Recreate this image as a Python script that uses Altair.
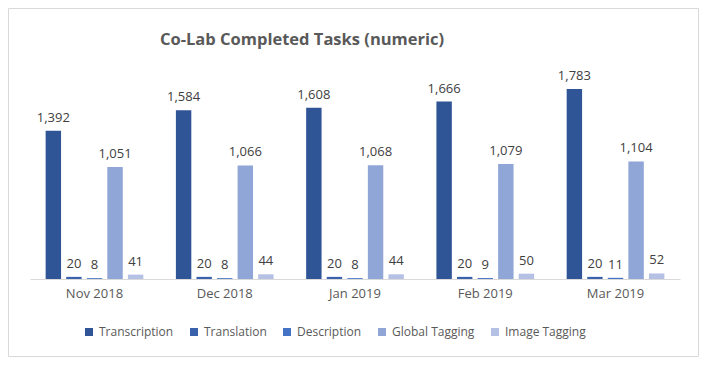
import altair as alt
import pandas as pd

title_text = "Co-Lab Completed Tasks (numeric)"
months = ["Nov 2018", "Dec 2018", "Jan 2019", "Feb 2019", "Mar 2019"]
series = ["Transcription", "Translation", "Description", "Global Tagging", "Image Tagging"]
colors = ["#2F5597", "#3A62AC", "#4472C4", "#8FA6D6", "#B4C1E5"]
transcription = [1392, 1584, 1608, 1666, 1783]
translation = [20, 20, 20, 20, 20]
description = [8, 8, 8, 9, 11]
global_tagging = [1051, 1066, 1068, 1079, 1104]
image_tagging = [41, 44, 44, 50, 52]

vals = [transcription, translation, description, global_tagging, image_tagging]
rows = []
for s, v in zip(series, vals):
    for m, x in zip(months, v):
        rows.append({"month": m, "series": s, "value": x})
df = pd.DataFrame(rows)

W, H = 650, 213
PL, PT, PR, PB = 22, 58, 19, 78

xenc = alt.X("month:N", sort=months, title=None,
             scale=alt.Scale(paddingInner=0.25, paddingOuter=0.12),
             axis=alt.Axis(labelAngle=0, ticks=False, domainColor="#d9d9d9",
                           labelColor="#595959", labelFontSize=13, labelFont="Open Sans",
                           labelPadding=8))
xoff = alt.XOffset("series:N", sort=series, scale=alt.Scale(paddingInner=0.25))
yenc = alt.Y("value:Q", scale=alt.Scale(domain=[0, 2000]), axis=None)

base = alt.Chart(df).encode(x=xenc, xOffset=xoff, y=yenc)

bars = base.mark_bar().encode(
    color=alt.Color("series:N", sort=series,
                    scale=alt.Scale(domain=series, range=colors),
                    legend=alt.Legend(title=None, orient="none", direction="horizontal",
                                      legendX=53, legendY=260,
                                      symbolType="square", symbolSize=64,
                                      symbolStrokeWidth=0,
                                      labelFontSize=12, labelFont="Open Sans",
                                      labelColor="#595959", columnPadding=14))
)
labels = base.mark_text(baseline="bottom", dy=-6, fontSize=13, font="Open Sans",
                        color="#404040").encode(text=alt.Text("value:Q", format=","))

one = pd.DataFrame({"t": [title_text]})
border = alt.Chart(one).mark_rect(
    fill=None, stroke="#d9d9d9", strokeWidth=1
).encode(x=alt.value(-PL + 0.5), x2=alt.value(W + PR - 0.5),
         y=alt.value(-PT + 0.5), y2=alt.value(H + PB - 0.5))

title = alt.Chart(one).mark_text(
    align="left", baseline="alphabetic", fontSize=16.5, font="Open Sans",
    fontWeight="bold", color="#595959"
).encode(x=alt.value(130), y=alt.value(-21), text="t:N")

chart = alt.layer(border, title, bars, labels).properties(
    width=W, height=H,
    padding={"left": PL, "top": PT, "right": PR, "bottom": PB},
    autosize=alt.AutoSizeParams(type="none"),
).configure_view(stroke=None)

chart.save("out.html", embed_options={"renderer": "svg", "actions": False})
